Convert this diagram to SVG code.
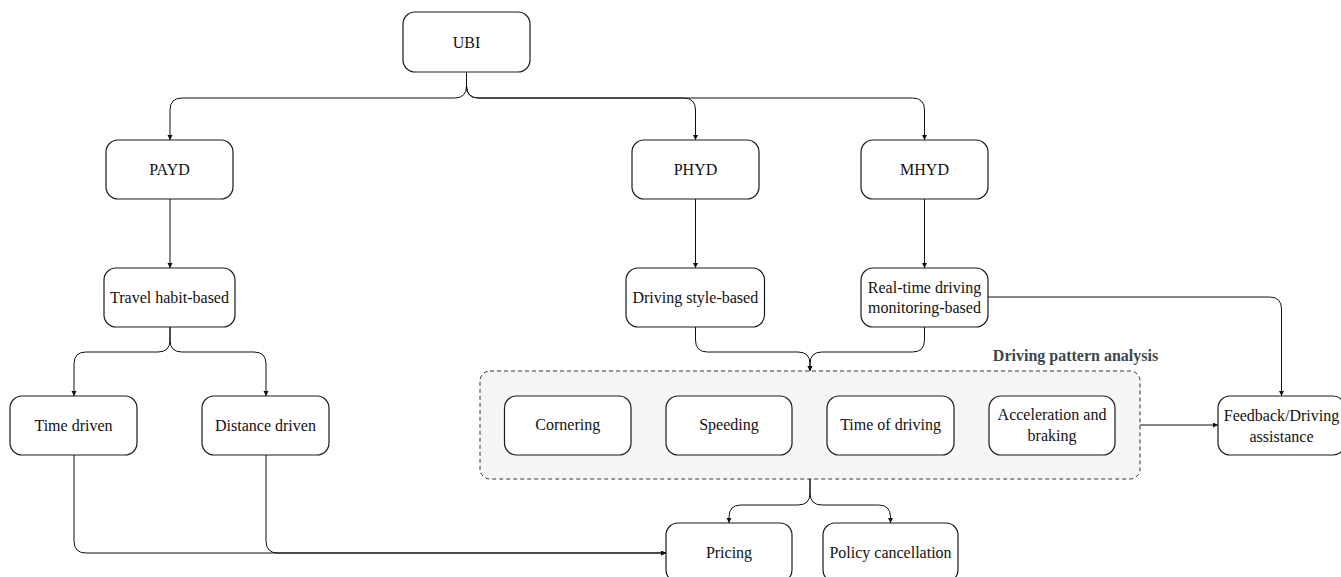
<svg xmlns="http://www.w3.org/2000/svg" width="1341" height="577" viewBox="0 0 1341 577">
<style>
.box{fill:#ffffff;stroke:#1a1a1a;stroke-width:1.2}
.t{font-family:"Liberation Serif","Times New Roman",serif;font-size:16px;fill:#111;text-anchor:middle;dominant-baseline:central}
.c{fill:none;stroke:#111;stroke-width:1}
.grp{fill:#f4f5f7;stroke:#333;stroke-width:1;stroke-dasharray:4,3}
.lbl{font-family:"Liberation Serif","Times New Roman",serif;font-size:16px;font-weight:bold;fill:#3a4750;text-anchor:middle;dominant-baseline:central}
</style>
<defs>
<marker id="ah" markerUnits="userSpaceOnUse" markerWidth="6" markerHeight="6" refX="5" refY="2.5" orient="auto">
<path d="M0,0 L5,2.5 L0,5 z" fill="#111"/>
</marker>
</defs>
<rect class="grp" x="480" y="371" width="660" height="108" rx="10"/>
<text class="lbl" x="1075.5" y="355">Driving pattern analysis</text>
<g id="connectors">
<path class="c" marker-end="url(#ah)" d="M466.5,72 V86 Q466.5,98 454.5,98 H182 Q170,98 170,110 V140"/>
<path class="c" marker-end="url(#ah)" d="M466.5,72 V86 Q466.5,98 478.5,98 H683.5 Q695.5,98 695.5,110 V140"/>
<path class="c" marker-end="url(#ah)" d="M466.5,72 V86 Q466.5,98 478.5,98 H912.5 Q924.5,98 924.5,110 V140"/>
<path class="c" marker-end="url(#ah)" d="M170,199 V268"/>
<path class="c" marker-end="url(#ah)" d="M695.5,199 V268"/>
<path class="c" marker-end="url(#ah)" d="M924.5,199 V268"/>
<path class="c" marker-end="url(#ah)" d="M170,327 V340 Q170,352 158,352 H86 Q74,352 74,364 V396"/>
<path class="c" marker-end="url(#ah)" d="M170,327 V340 Q170,352 182,352 H254 Q266,352 266,364 V396"/>
<path class="c" marker-end="url(#ah)" d="M695.5,327 V340 Q695.5,352 707.5,352 H798 Q810,352 810,364 V371"/>
<path class="c" marker-end="url(#ah)" d="M924.5,327 V340 Q924.5,352 912.5,352 H822 Q810,352 810,364 V371"/>
<path class="c" marker-end="url(#ah)" d="M987.5,297 H1269.5 Q1281.5,297 1281.5,309 V396"/>
<path class="c" marker-end="url(#ah)" d="M1140,425 H1218"/>
<path class="c" marker-end="url(#ah)" d="M810,479 V493 Q810,505 798,505 H741 Q729,505 729,517 V523"/>
<path class="c" marker-end="url(#ah)" d="M810,479 V493 Q810,505 822,505 H878.5 Q890.5,505 890.5,517 V523"/>
<path class="c" marker-end="url(#ah)" d="M74,455 V541 Q74,553 86,553 H666"/>
<path class="c" marker-end="url(#ah)" d="M266,455 V541 Q266,553 278,553 H666"/>
</g>
<g id="ubi"><rect class="box" x="403" y="12" width="127" height="60" rx="12"/><text class="t" x="466.5" y="42">UBI</text></g>
<g id="payd"><rect class="box" x="106" y="140" width="127" height="59" rx="12"/><text class="t" x="169.5" y="169.5">PAYD</text></g>
<g id="phyd"><rect class="box" x="632" y="140" width="127" height="59" rx="12"/><text class="t" x="695.5" y="169.5">PHYD</text></g>
<g id="mhyd"><rect class="box" x="861" y="140" width="127" height="59" rx="12"/><text class="t" x="924.5" y="169.5">MHYD</text></g>
<g id="travel"><rect class="box" x="104" y="268" width="131" height="59" rx="12"/><text class="t" x="169.5" y="297.5">Travel habit-based</text></g>
<g id="style"><rect class="box" x="626" y="268" width="138.5" height="59" rx="12"/><text class="t" x="695.3" y="297.5">Driving style-based</text></g>
<g id="realtime"><rect class="box" x="861" y="268" width="127" height="59" rx="12"/><text class="t" x="924.5" y="287">Real-time driving</text><text class="t" x="924.5" y="307">monitoring-based</text></g>
<g id="timedriven"><rect class="box" x="10" y="396" width="127" height="59" rx="12"/><text class="t" x="73.5" y="425.5">Time driven</text></g>
<g id="distance"><rect class="box" x="202" y="396" width="127" height="59" rx="12"/><text class="t" x="265.5" y="425.5">Distance driven</text></g>
<g id="cornering"><rect class="box" x="504.5" y="396" width="126.5" height="59" rx="12"/><text class="t" x="567.8" y="424">Cornering</text></g>
<g id="speeding"><rect class="box" x="666" y="396" width="126" height="59" rx="12"/><text class="t" x="729" y="424">Speeding</text></g>
<g id="timeof"><rect class="box" x="827" y="396" width="127" height="59" rx="12"/><text class="t" x="890.5" y="424">Time of driving</text></g>
<g id="accel"><rect class="box" x="989" y="396" width="126" height="59" rx="12"/><text class="t" x="1052" y="414">Acceleration and</text><text class="t" x="1052" y="435">braking</text></g>
<g id="feedback"><rect class="box" x="1218" y="396" width="127" height="59" rx="12"/><text class="t" x="1281.5" y="415">Feedback/Driving</text><text class="t" x="1281.5" y="436">assistance</text></g>
<g id="pricing"><rect class="box" x="666" y="523" width="126" height="59" rx="12"/><text class="t" x="729" y="552">Pricing</text></g>
<g id="policy"><rect class="box" x="823" y="523" width="135" height="59" rx="12"/><text class="t" x="890.5" y="552">Policy cancellation</text></g>
</svg>
